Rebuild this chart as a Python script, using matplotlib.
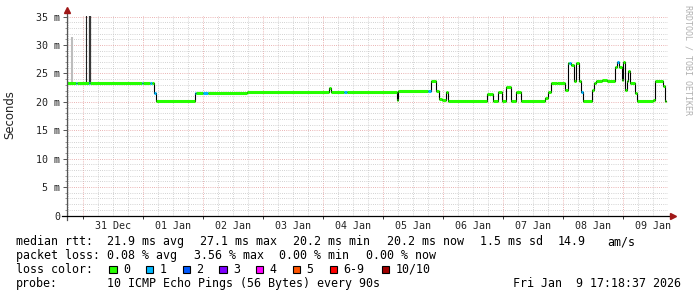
import datetime as dt
import matplotlib
matplotlib.use("Agg")
import matplotlib.pyplot as plt
from matplotlib.ticker import MultipleLocator, FixedLocator, FuncFormatter
from matplotlib.patches import Rectangle

# time in hours since 31 Dec 00:00, median rtt in ms, loss bucket per step
seg_start = [-6.4, -2.8, -2.4, 2.2, 2.8, 23.4, 23.8, 26.8, 27.6, 28.4,
             29.2, 44.6, 45.2, 48.0, 50.0, 65.5, 98.4, 99.2, 104.4, 105.6,
             125.5, 126.1, 138.1, 139.0, 141.1, 142.5, 143.5, 145.1, 145.8, 161.7,
             164.0, 165.8, 167.6, 169.0, 171.2, 173.2, 175.0, 184.8, 186.0, 187.0,
             189.6, 192.9, 193.8, 194.4, 195.0, 196.4, 197.2, 198.2, 199.0, 199.8,
             203.6, 204.4, 205.2, 207.6, 209.6, 212.8, 213.6, 214.4, 215.6, 216.0,
             216.8, 217.6, 218.1, 218.8, 220.8, 221.6, 228.0, 228.8, 232.0, 232.8]
seg_end = 233.3
median = [23.3, 23.3, 23.3, 23.3, 23.3, 23.3, 23.3, 23.3, 23.3, 21.5,
          20.2, 21.5, 21.5, 21.5, 21.5, 21.8, 22.4, 21.7, 21.7, 21.7,
          20.3, 22.0, 22.0, 23.6, 22.0, 20.5, 20.4, 21.7, 20.2, 21.4,
          20.2, 21.7, 20.2, 22.7, 20.2, 21.7, 20.2, 20.6, 21.7, 23.3,
          23.4, 22.1, 26.8, 26.8, 26.5, 23.6, 26.9, 23.7, 21.8, 20.2,
          22.1, 23.4, 23.6, 23.85, 23.6, 26.2, 27.1, 26.2, 23.85, 27.1,
          22.1, 23.6, 25.5, 23.3, 21.5, 20.2, 20.4, 23.6, 22.8, 20.2]
loss = [0, 1, 0, 1, 0, 1, 0, 1, 0, 1,
        0, 1, 0, 1, 0, 0, 0, 0, 1, 0,
        0, 0, 1, 0, 0, 0, 0, 0, 0, 0,
        0, 0, 0, 0, 0, 0, 0, 0, 0, 0,
        0, 0, 0, 1, 0, 0, 0, 0, 1, 0,
        0, 0, 0, 0, 0, 0, 1, 0, 0, 0,
        0, 0, 0, 0, 0, 0, 0, 0, 0, 0]

# smoke spikes (max ping) at the start of the window
spike_t = [-4.6, 1.0, 2.6]
spike_lo = [23.3, 23.3, 23.3]
spike_hi = [31.5, 40.0, 40.0]

loss_labels = ["0", "1", "2", "3", "4", "5", "6-9", "10/10"]
loss_colors = ["#26ff00", "#00b8ff", "#0059ff", "#7e00ff", "#ff00ff",
               "#ff5500", "#ff0000", "#a10000"]

day_names = ["31 Dec", "01 Jan", "02 Jan", "03 Jan", "04 Jan",
             "05 Jan", "06 Jan", "07 Jan", "08 Jan", "09 Jan"]

MONO = "DejaVu Sans Mono"
W, H = 697, 297

fig = plt.figure(figsize=(W / 100, H / 100), dpi=100)
fig.patch.set_facecolor("white")
ax = fig.add_axes([67 / W, 1 - 215.5 / H, (668 - 67) / W, 200 / H])
ax.set_xlim(-6.4, 234.0)
ax.set_ylim(0, 35.2)

# smoke
spike_col = ["#bdbdbd", "#202020", "#383838"]
spike_lw = [1.5, 0.8, 1.6]
for t, lo, hi, c, lw in zip(spike_t, spike_lo, spike_hi, spike_col, spike_lw):
    ax.vlines(t, lo, hi, color=c, lw=lw, zorder=2)

# median: black step connectors, then loss coloured runs
xs = seg_start + [seg_end]
ys = median + [median[-1]]
ax.plot(xs, ys, drawstyle="steps-post", color="black", lw=0.8, zorder=3)
ends = seg_start[1:] + [seg_end]
ax.hlines(median, seg_start, ends, colors=[loss_colors[l] for l in loss],
          lw=2.2, zorder=4)

# grid
ax.xaxis.set_major_locator(MultipleLocator(24))
ax.xaxis.set_minor_locator(MultipleLocator(6))
ax.yaxis.set_major_locator(MultipleLocator(5))
ax.yaxis.set_minor_locator(MultipleLocator(1))
ax.grid(which="major", color="#e39a9a", lw=0.6, ls=(0, (1, 1.6)))
ax.grid(which="minor", color="#c4c4c4", lw=0.6, ls=(0, (1, 1.6)))
ax.set_axisbelow(True)


def xfmt(v, pos):
    if int(round(v)) % 24 == 12:
        return day_names[int(round(v)) // 24]
    return ""


ax.xaxis.set_major_formatter(FuncFormatter(lambda v, p: ""))
ax.xaxis.set_minor_formatter(FuncFormatter(xfmt))
ax.yaxis.set_major_formatter(FuncFormatter(lambda v, p: "0" if v == 0 else f"{v:.0f} m"))

ax.tick_params(axis="x", which="major", length=2.5, width=0.7, color="#333333", direction="out")
ax.tick_params(axis="x", which="minor", length=0, pad=4)
ax.tick_params(axis="y", which="major", length=3, width=0.7, color="#555555", pad=2)
ax.tick_params(axis="y", which="minor", length=1.5, width=0.6, color="#888888")
for lab in ax.get_xticklabels(minor=True) + ax.get_yticklabels():
    lab.set_fontfamily(MONO)
    lab.set_fontsize(7.2)
    lab.set_color("#222222")

for s in ax.spines.values():
    s.set_visible(False)

# axes with arrow heads
ax.plot([0, 0], [-0.02, 1.02], transform=ax.transAxes, color="#555555", lw=0.9, clip_on=False, zorder=5)
ax.plot([-0.008, 1.005], [0, 0], transform=ax.transAxes, color="black", lw=0.9, clip_on=False, zorder=5)
ax.plot(0, 1.027, transform=ax.transAxes, marker="^", ms=4, color="#a01818", clip_on=False, zorder=6)
ax.plot(1.008, 0, transform=ax.transAxes, marker=">", ms=4, color="#a01818", clip_on=False, zorder=6)

fig.text(10 / W, 1 - 115 / H, "Seconds", rotation=90, ha="center", va="center",
         fontsize=8.4, family="DejaVu Sans", color="#222222")
fig.text(688 / W, 1 - 60 / H, "RRDTOOL / TOBI OETIKER", rotation=270, ha="center", va="center",
         fontsize=6, family=MONO, color="#b0b0b0")


def line(x, y, s):
    fig.text(x / W, 1 - y / H, s, ha="left", va="center", fontsize=8.4, family=MONO, color="black")


y1, y2, y3, y4 = 241.7, 255.2, 269.3, 283.3
line(16, y1, "median rtt:")
for x, s in [(107, "21.9 ms avg"), (200, "27.1 ms max"), (293, "20.2 ms min"),
             (386.5, "20.2 ms now"), (480, "1.5 ms sd"), (558, "14.9"), (607, "am/s")]:
    line(x, y1, s)
line(16, y2, "packet loss:")
for x, s in [(107, "0.08 % avg"), (194, "3.56 % max"), (279, "0.00 % min"), (366, "0.00 % now")]:
    line(x, y2, s)
line(16, y3, "loss color:")
box_x = [109.3, 145.7, 182.7, 219.3, 256, 292.7, 330, 381.7]
for bx, lab, col in zip(box_x, loss_labels, loss_colors):
    fig.patches.append(Rectangle((bx / W, 1 - (y3 + 3.6) / H), 7.3 / W, 7.3 / H,
                                 transform=fig.transFigure, facecolor=col,
                                 edgecolor="black", lw=0.8))
    line(bx + 13.5, y3, lab)
line(16, y4, "probe:")
line(107, y4, "10 ICMP Echo Pings (56 Bytes) every 90s")
line(513.3, y4, "Fri Jan  9 17:18:37 2026")

fig.savefig("out.png", dpi=100)
